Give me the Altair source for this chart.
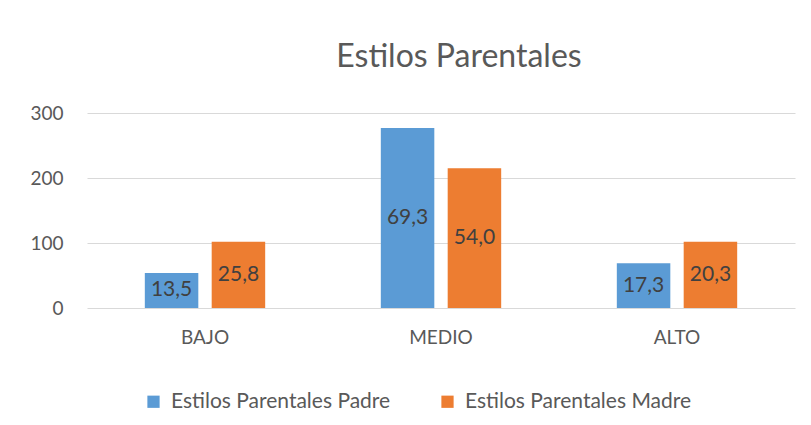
import altair as alt
import pandas as pd

categories = ["BAJO", "MEDIO", "ALTO"]
series = ["Estilos Parentales Padre", "Estilos Parentales Madre"]
padre = [54, 277, 69]
madre = [102, 215, 102]
padre_pct = ["13,5", "69,3", "17,3"]
madre_pct = ["25,8", "54,0", "20,3"]
colors = ["#5B9BD5", "#ED7D31"]

rows = []
for c, v, p in zip(categories, padre, padre_pct):
    rows.append({"cat": c, "serie": series[0], "val": v, "pct": p})
for c, v, p in zip(categories, madre, madre_pct):
    rows.append({"cat": c, "serie": series[1], "val": v, "pct": p})
df = pd.DataFrame(rows)

FONT = "Lato"

base = alt.Chart(df).encode(
    x=alt.X("cat:N", sort=categories, title=None,
            scale=alt.Scale(paddingInner=0.49, paddingOuter=0.245),
            axis=alt.Axis(domain=False, ticks=False, labelAngle=0, labelPadding=20,
                          labelFontSize=19, labelFont=FONT, labelColor="#595959")),
    xOffset=alt.XOffset("serie:N", sort=series,
                        scale=alt.Scale(paddingInner=0.2, paddingOuter=0)),
)

bars = base.mark_bar().encode(
    y=alt.Y("val:Q", title=None, scale=alt.Scale(domain=[0, 300], nice=False),
            axis=alt.Axis(values=[0, 100, 200, 300], domain=False, ticks=False,
                          labelPadding=24, labelFontSize=19, labelFont=FONT,
                          labelColor="#595959", gridColor="#D9D9D9", gridWidth=1.2)),
    color=alt.Color("serie:N", sort=series,
                    scale=alt.Scale(domain=series, range=colors),
                    legend=alt.Legend(title=None, orient="none", direction="horizontal",
                                      legendX=56, legendY=278, symbolType="square",
                                      symbolSize=150, symbolStrokeWidth=0,
                                      labelFontSize=21, labelFont=FONT, labelLimit=0,
                                      labelColor="#595959", columnPadding=46,
                                      labelOffset=7, padding=0)),
)

labels = base.transform_calculate(mid="datum.val / 2").mark_text(
    fontSize=21, font=FONT, color="#404040", baseline="middle", align="center"
).encode(
    y=alt.Y("mid:Q"),
    text="pct:N",
)

chart = alt.layer(bars, labels).properties(
    width=708,
    height=195,
    background="white",
    autosize=alt.AutoSizeParams(type="none"),
    padding={"left": 79, "top": 105, "right": 8, "bottom": 112},
    title=alt.TitleParams("Estilos Parentales", fontSize=32, font=FONT,
                          fontWeight="normal", color="#595959", anchor="middle",
                          offset=30, dx=18),
).configure_view(strokeWidth=0)

chart.save("out.html", embed_options={"renderer": "svg", "actions": False})
